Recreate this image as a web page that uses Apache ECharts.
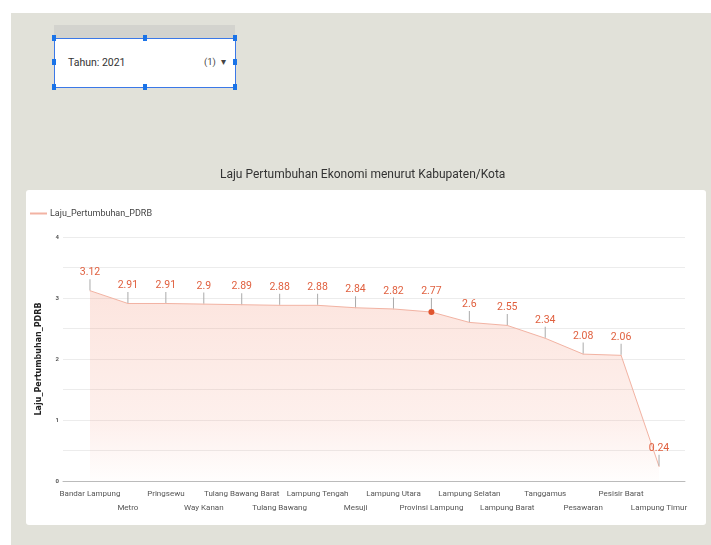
<!DOCTYPE html>
<html>
<head>
<meta charset="utf-8">
<script src="https://cdn.jsdelivr.net/npm/echarts@6/dist/echarts.min.js"></script>
<style>
  html, body { margin: 0; padding: 0; background: #fff; }
  body { width: 711px; height: 545px; position: relative; overflow: hidden;
         font-family: Roboto, 'Liberation Sans', sans-serif; }
  #bg { position: absolute; left: 11px; top: 13px; right: 0; bottom: 0; background: #e1e1d9; }
  #filterHead { position: absolute; left: 54px; top: 25px; width: 181px; height: 13px; background: #d3d3ce; }
  #filter { position: absolute; left: 54px; top: 38px; width: 180px; height: 48px; background: #fff;
            border: 1px solid #3b78e7; }
  #filter .txt { position: absolute; left: 13px; top: 17px; font-size: 10.5px; color: #333; }
  #filter .cnt { position: absolute; left: 149px; top: 17px; font-size: 9.5px; color: #444; }
  .h { position: absolute; width: 4px; height: 6px; background: #1a73e8; }
  #chart { position: absolute; left: 0; top: 0; width: 711px; height: 545px; }
</style>
</head>
<body>
<div id="bg"></div>
<div id="filterHead"></div>
<div id="filter">
  <span class="txt">Tahun: 2021</span>
  <span class="cnt">(1) &nbsp;▾</span>
</div>
<div class="h" style="left:52px;top:35px"></div>
<div class="h" style="left:143px;top:35px"></div>
<div class="h" style="left:233px;top:35px"></div>
<div class="h" style="left:52px;top:59px"></div>
<div class="h" style="left:233px;top:59px"></div>
<div class="h" style="left:52px;top:84px"></div>
<div class="h" style="left:143px;top:84px"></div>
<div class="h" style="left:233px;top:84px"></div>
<div id="chart"></div>
<script>
const categories = ['Bandar Lampung', 'Metro', 'Pringsewu', 'Way Kanan', 'Tulang Bawang Barat',
    'Tulang Bawang', 'Lampung Tengah', 'Mesuji', 'Lampung Utara', 'Provinsi Lampung',
    'Lampung Selatan', 'Lampung Barat', 'Tanggamus', 'Pesawaran', 'Pesisir Barat', 'Lampung Timur'];
const pdrb = [3.12, 2.91, 2.91, 2.9, 2.89, 2.88, 2.88, 2.84, 2.82, 2.77, 2.6, 2.55, 2.34, 2.08, 2.06, 0.24];
const highlightIndex = 9;
const yTicks = [0, 1, 2, 3, 4];

const font = "Roboto, 'Liberation Sans', sans-serif";

function PaintChart() {
    const chart = echarts.init(document.getElementById('chart'));
    const option = {
        textStyle: { fontFamily: font },
        graphic: [{
            type: 'rect',
            z: -10,
            shape: { x: 26, y: 190, width: 680, height: 335, r: 3 },
            style: { fill: '#ffffff' }
        }],
        title: {
            text: 'Laju Pertumbuhan Ekonomi menurut Kabupaten/Kota',
            left: 220,
            top: 169,
            padding: 0,
            textStyle: { fontSize: 12, fontWeight: 'normal', color: '#333', fontFamily: font }
        },
        legend: {
            data: ['Laju_Pertumbuhan_PDRB'],
            left: 30,
            top: 209,
            padding: 0,
            icon: 'rect',
            itemWidth: 17,
            itemHeight: 2,
            itemGap: 4,
            textStyle: { fontSize: 9, color: '#444', fontFamily: font, padding: [0, 0, 0, -2] }
        },
        grid: [
            { left: 63, right: 26, top: 237, bottom: 64 },
            { left: 71, right: 33, top: 237, bottom: 64 }
        ],
        xAxis: [
            {
                type: 'category',
                gridIndex: 0,
                data: categories,
                axisLine: { lineStyle: { color: '#bbb' } },
                axisTick: { show: false },
                axisLabel: { show: false }
            },
            {
                type: 'category',
                gridIndex: 1,
                data: categories,
                boundaryGap: true,
                axisLine: { show: false },
                axisTick: { show: false },
                axisLabel: {
                    interval: 0,
                    hideOverlap: false,
                    margin: 6,
                    fontSize: 8,
                    lineHeight: 14,
                    color: '#555',
                    fontFamily: font,
                    formatter: (v, i) => (i % 2 ? '\n' + v : v)
                }
            }
        ],
        yAxis: [
            {
                type: 'value',
                gridIndex: 0,
                min: 0,
                max: 4,
                interval: 0.5,
                name: 'Laju_Pertumbuhan_PDRB',
                nameLocation: 'middle',
                nameGap: 20,
                nameTextStyle: { fontSize: 8, fontWeight: 'bold', color: '#222', fontFamily: 'DejaVu Sans, sans-serif' },
                axisLine: { show: false },
                axisTick: { show: false },
                axisLabel: {
                    margin: 4,
                    fontSize: 6,
                    fontWeight: 'bold',
                    color: '#555',
                    formatter: v => (yTicks.indexOf(v) >= 0 ? String(v) : '')
                },
                splitLine: { lineStyle: { color: '#ececec' } }
            },
            {
                type: 'value',
                gridIndex: 1,
                min: 0,
                max: 4,
                show: false,
                splitLine: { show: false }
            }
        ],
        series: [
            {
                type: 'line',
                name: 'Laju_Pertumbuhan_PDRB',
                xAxisIndex: 1,
                yAxisIndex: 1,
                data: pdrb.map((v, i) => i === highlightIndex
                    ? { value: v, symbolSize: 6, itemStyle: { color: '#e0552f' } }
                    : v),
                symbol: 'circle',
                symbolSize: 1,
                color: '#f2ad9b',
                lineStyle: { color: '#f2b3a3', width: 1 },
                itemStyle: { color: '#f2b3a3' },
                areaStyle: {
                    color: new echarts.graphic.LinearGradient(0, 0, 0, 1, [
                        { offset: 0, color: 'rgba(244,150,125,0.36)' },
                        { offset: 0.7, color: 'rgba(244,150,125,0.2)' },
                        { offset: 1, color: 'rgba(244,150,125,0.02)' }
                    ])
                },
                label: {
                    show: true,
                    position: 'top',
                    distance: 0,
                    align: 'center',
                    formatter: p => '{v|' + p.value + '}\n{l|}',
                    rich: {
                        v: { fontSize: 10.5, color: '#e0603f', fontFamily: font, lineHeight: 13, align: 'center' },
                        l: { width: 1, height: 11, backgroundColor: '#aaa', align: 'center' }
                    }
                },
                emphasis: { disabled: true }
            }
        ]
    };
    chart.setOption(option);
}
PaintChart();
</script>
</body>
</html>
